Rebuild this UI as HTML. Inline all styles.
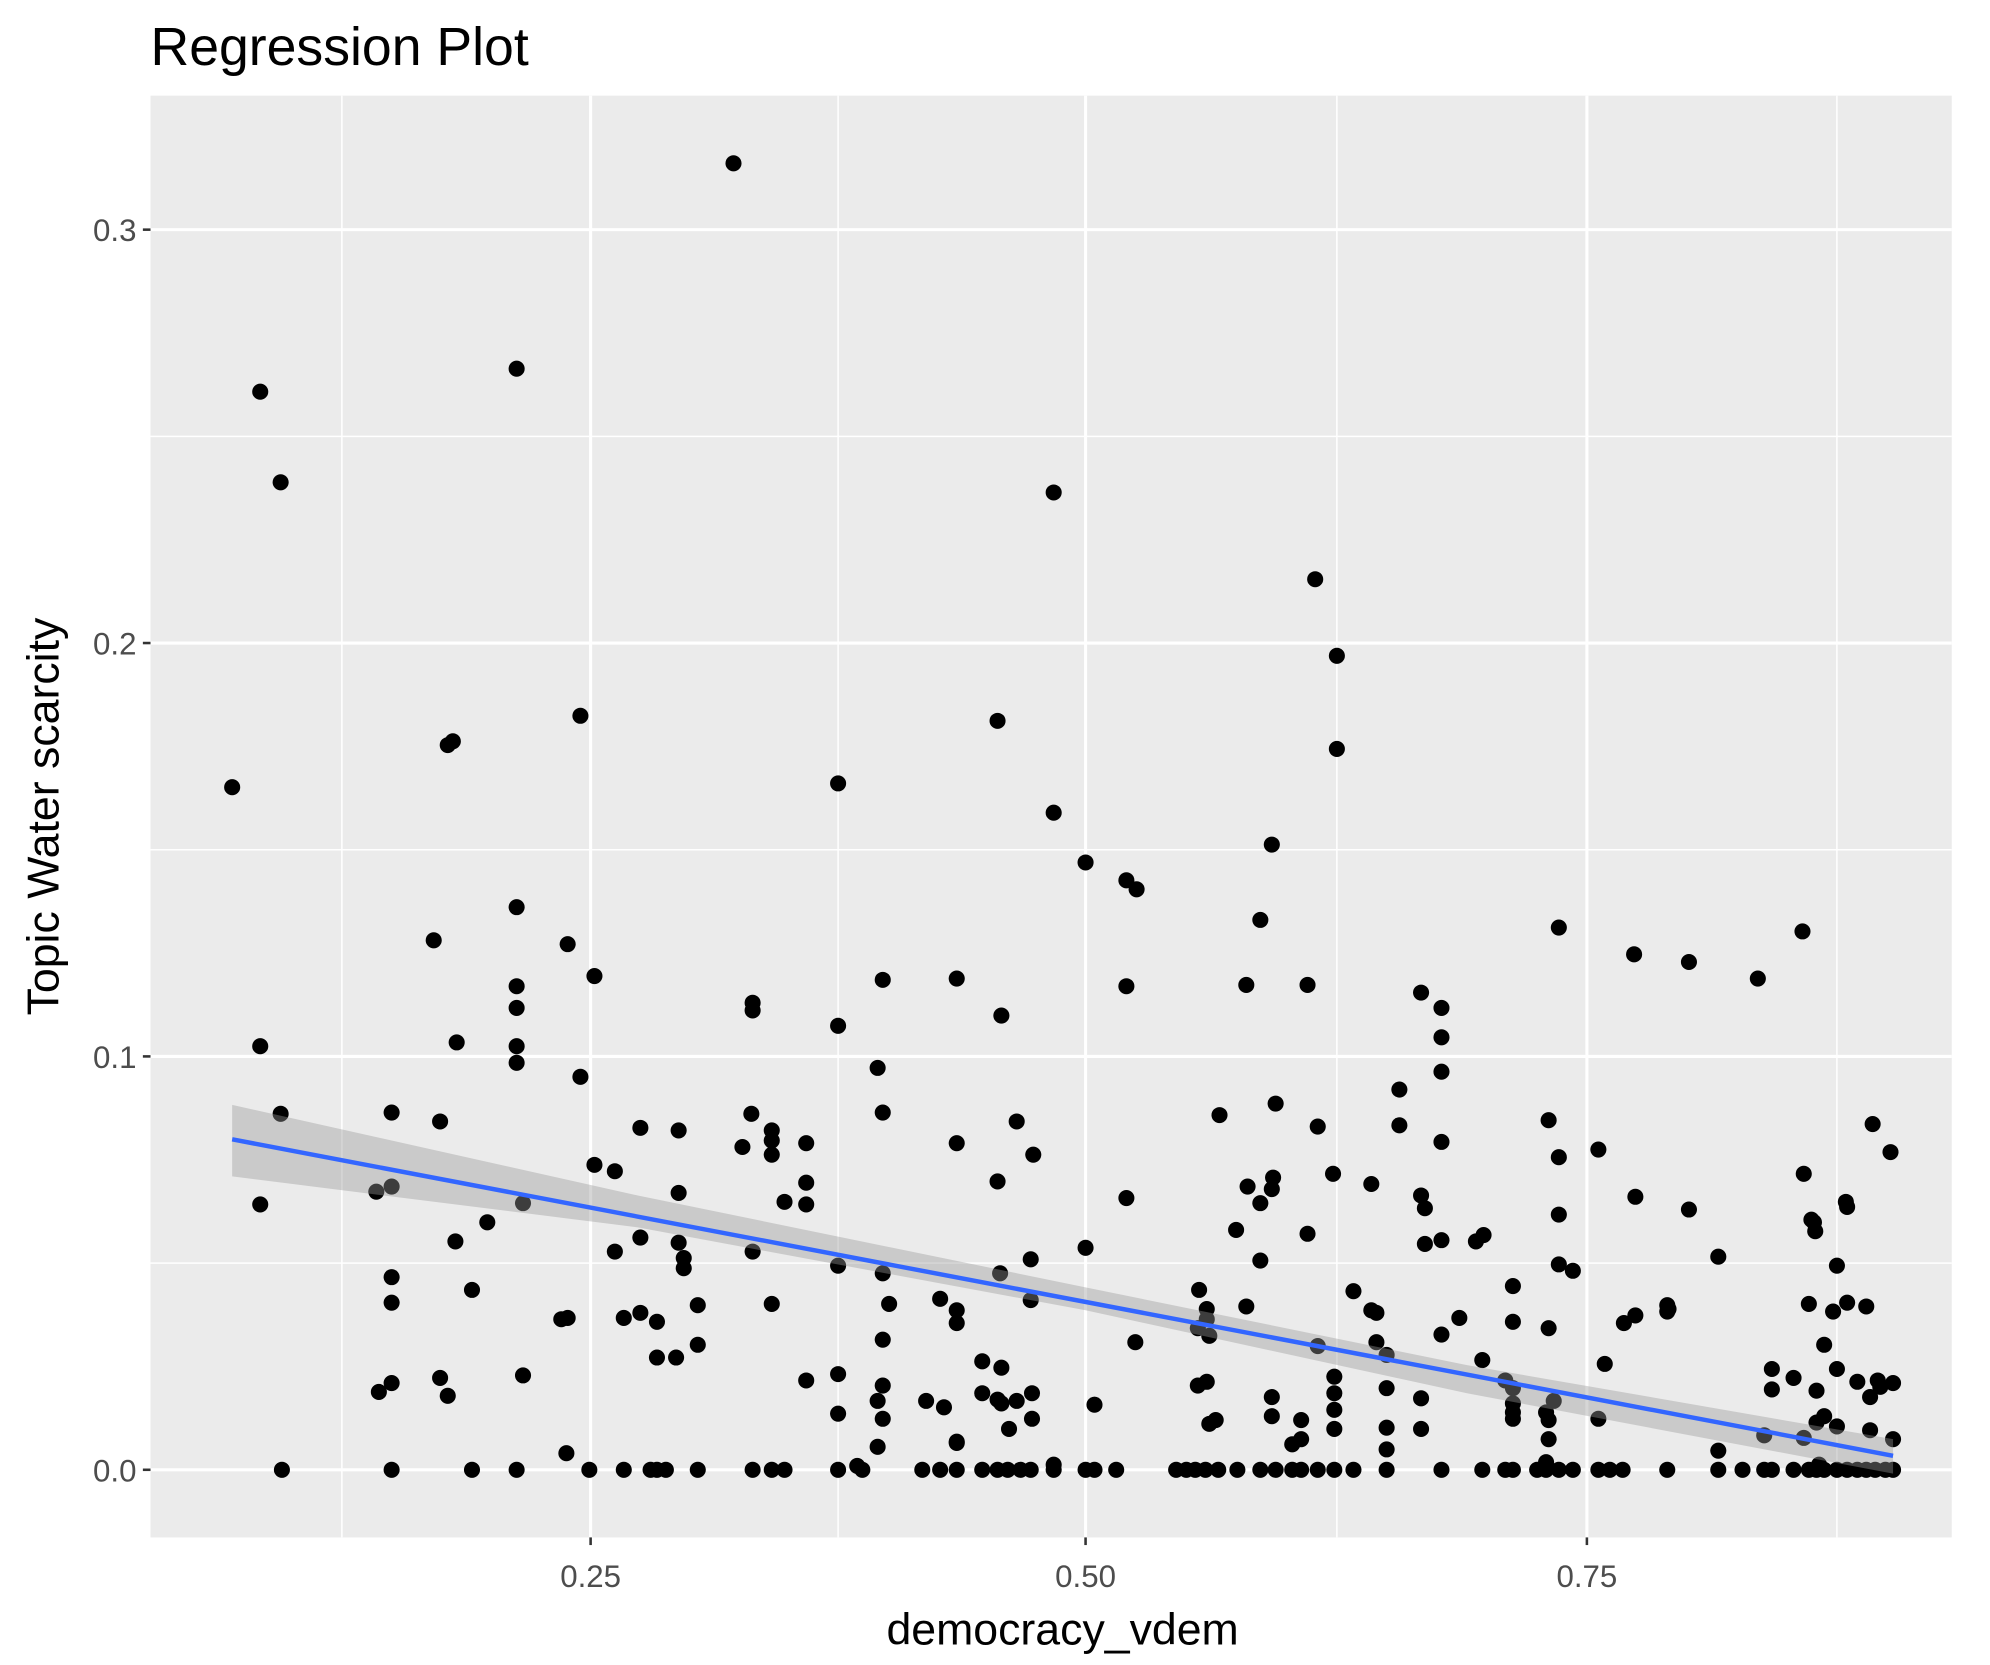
<!DOCTYPE html>
<html><head><meta charset="utf-8"><style>
html,body{margin:0;padding:0;background:#fff;}
svg{display:block;}
text{font-family:"Liberation Sans",Arial,sans-serif;}
</style></head><body>
<svg id="s" width="1990" height="1665" viewBox="0 0 1560 1305" preserveAspectRatio="none" xmlns="http://www.w3.org/2000/svg">
<rect x="0" y="0" width="1560" height="1305" fill="#fff"/>
<rect x="118" y="75" width="1412" height="1130" fill="#ebebeb"/>
<g stroke="#fff" stroke-width="1.2">
<line x1="118" x2="1530" y1="990" y2="990"/><line x1="118" x2="1530" y1="666" y2="666"/><line x1="118" x2="1530" y1="342" y2="342"/>
<line x1="268" x2="268" y1="75" y2="1205"/><line x1="657" x2="657" y1="75" y2="1205"/><line x1="1048" x2="1048" y1="75" y2="1205"/><line x1="1440" x2="1440" y1="75" y2="1205"/>
</g>
<g stroke="#fff" stroke-width="2.4">
<line x1="118" x2="1530" y1="1152" y2="1152"/><line x1="118" x2="1530" y1="828" y2="828"/><line x1="118" x2="1530" y1="504" y2="504"/><line x1="118" x2="1530" y1="180" y2="180"/>
<line x1="463" x2="463" y1="75" y2="1205"/><line x1="851" x2="851" y1="75" y2="1205"/><line x1="1244" x2="1244" y1="75" y2="1205"/>
</g>
<g id="pts" fill="#000"></g>
<polygon points="182,866 500,937 851,1009 1150,1070 1484,1128 1484,1155 1150,1092 851,1027 500,962 182,922" fill="#999" fill-opacity="0.4"/>
<line x1="182" y1="893" x2="1484" y2="1141" stroke="#3366ff" stroke-width="3.5"/>
<g stroke="#333" stroke-width="2">
<line x1="112" x2="118" y1="1152" y2="1152"/><line x1="112" x2="118" y1="828" y2="828"/><line x1="112" x2="118" y1="504" y2="504"/><line x1="112" x2="118" y1="180" y2="180"/>
<line x1="463" x2="463" y1="1205" y2="1211"/><line x1="851" x2="851" y1="1205" y2="1211"/><line x1="1244" x2="1244" y1="1205" y2="1211"/>
</g>
<g fill="#4d4d4d" font-size="24.5" text-anchor="end">
<text x="107" y="1161">0.0</text><text x="107" y="837">0.1</text><text x="107" y="513">0.2</text><text x="107" y="189">0.3</text>
</g>
<g fill="#4d4d4d" font-size="24.5" text-anchor="middle">
<text x="463" y="1244">0.25</text><text x="851" y="1244">0.50</text><text x="1244" y="1244">0.75</text>
</g>
<text x="833" y="1289" font-size="35" text-anchor="middle" fill="#000">democracy_vdem</text>
<text transform="translate(46,640) rotate(-90)" font-size="35" text-anchor="middle" fill="#000">Topic Water scarcity</text>
<text x="118" y="51" font-size="42" fill="#000">Regression Plot</text>
</svg>
<script>
var P=[[575,128],[204,307],[220,378],[405,289],[826,386],[1031,454],[1048,514],[1048,587],[182,617],[455,561],[355,581],[351,584],[782,565],[657,614],[826,637],[851,676],[883,690],[891,697],[997,662],[988,721],[1222,727],[1413,730],[1281,748],[1324,754],[1378,767],
[340,737],[405,711],[445,740],[466,765],[405,773],[405,790],[405,820],[405,833],[204,820],[220,873],[358,817],[345,879],[307,872],[455,844],[590,786],[590,792],[589,873],[582,899],[605,886],[605,894],[605,905],[632,896],[632,927],[632,944],[615,942],[657,804],[692,768],[688,837],[692,872],[750,767],[785,796],[750,896],[797,879],[810,905],[782,926],[883,773],[883,939],[1025,772],[977,772],[1114,778],[1130,790],[1130,813],[1130,840],[1097,854],[1097,882],[1130,895],[1033,883],[1000,865],[956,874],[1214,878],[1222,907],[1253,901],[1282,938],[1222,952],[1045,920],[1075,928],[1114,937],[1117,947],[1414,920],[1420,956],[1447,942],[1448,946],[1324,948],[1468,881],[1482,903],
[204,944],[295,934],[307,930],[410,943],[466,913],[482,918],[502,884],[532,886],[532,935],[357,973],[382,958],[482,981],[502,970],[532,974],[536,986],[536,994],[590,981],[657,992],[692,998],[808,987],[784,998],[851,978],[969,964],[988,988],[997,932],[978,930],[988,943],[998,923],[1025,967],[1117,975],[1157,973],[1130,972],[1163,968],[1222,991],[1233,996],[1307,1023],[1307,1028],[1347,985],[1422,958],[1423,965],[1440,992],[1418,1022],[1430,1054],[1448,1021],[1463,1024],[1437,1028],
[307,1001],[307,1021],[370,1011],[445,1033],[489,1033],[502,1029],[515,1036],[547,1023],[605,1022],[697,1022],[692,1050],[737,1018],[750,1027],[750,1037],[808,1019],[782,1097],[785,1100],[890,1052],[940,1011],[946,1026],[946,1034],[939,1041],[948,1047],[977,1024],[1061,1012],[1075,1027],[1079,1029],[1087,1062],[1079,1052],[1033,1055],[1130,1046],[1144,1033],[1186,1008],[1186,1036],[1214,1041],[1273,1037],[1282,1031],[1308,1026],[1258,1069],[1162,1066],
[297,1091],[307,1084],[345,1080],[351,1094],[410,1078],[440,1034],[515,1064],[530,1064],[547,1054],[632,1082],[657,1077],[657,1108],[688,1098],[692,1086],[692,1112],[726,1098],[740,1103],[750,1131],[770,1067],[770,1092],[785,1072],[797,1098],[809,1092],[809,1112],[791,1120],[858,1101],[939,1086],[946,1083],[948,1116],[953,1113],[997,1095],[997,1110],[1013,1132],[1020,1113],[1020,1128],[1046,1079],[1046,1092],[1046,1105],[1046,1120],[1087,1088],[1087,1119],[1087,1136],[1114,1096],[1114,1120],[1180,1082],[1186,1088],[1186,1100],[1186,1107],[1186,1112],[1212,1107],[1214,1113],[1214,1128],[1218,1098],[1253,1112],[1347,1137],[1389,1073],[1389,1089],[1406,1080],[1424,1090],[1430,1110],[1440,1073],[1456,1083],[1472,1082],[1466,1095],[1484,1084],[1474,1087],[1440,1118],[1466,1121],[1484,1128],[1424,1115],[1414,1127],[1426,1148],
[444,1139],[672,1149],[688,1134],[750,1130],[826,1148],[1212,1146],[1383,1125]];
[221,307,370,405,462,489,510,515,522,547,590,605,615,657,676,723,737,750,770,782,790,800,808,826,851,858,875,922,930,937,945,955,970,988,1000,1013,1020,1033,1046,1061,1087,1130,1162,1180,1186,1205,1212,1222,1233,1253,1262,1272,1307,1347,1366,1383,1389,1406,1418,1424,1430,1440,1448,1456,1463,1470,1478,1484].forEach(function(x){P.push([x,1152]);});
var g=document.getElementById('pts'),h='';
P.forEach(function(p){h+='<circle cx="'+p[0]+'" cy="'+p[1]+'" r="6.3"/>';});
g.innerHTML=h;
</script>
</body></html>
